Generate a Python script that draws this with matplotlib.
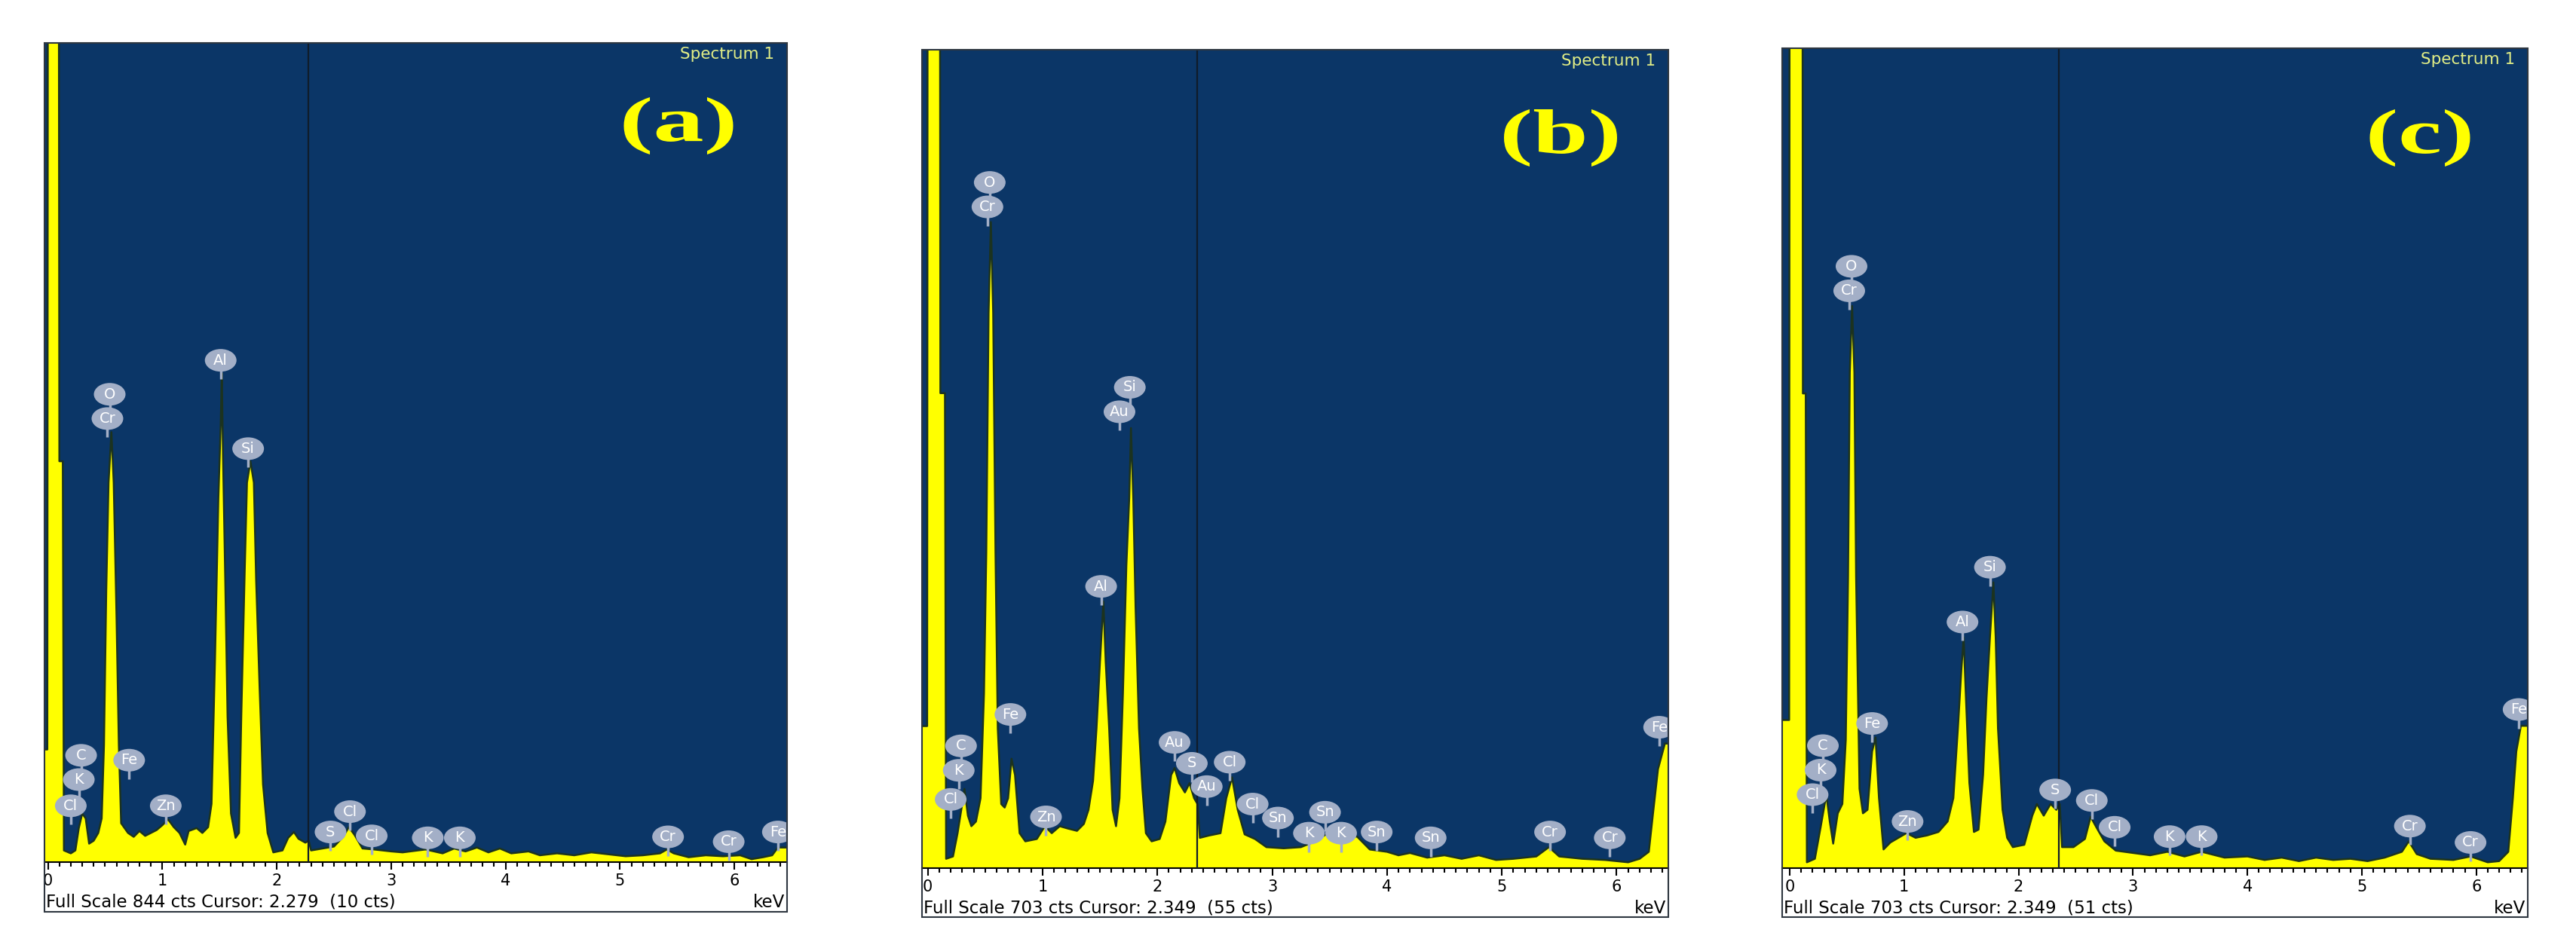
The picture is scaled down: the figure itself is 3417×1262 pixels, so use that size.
import matplotlib
matplotlib.use("Agg")
import matplotlib.pyplot as plt
from matplotlib.patches import Ellipse, Rectangle, PathPatch
from matplotlib.textpath import TextPath
from matplotlib.font_manager import FontProperties
from matplotlib.ticker import MultipleLocator
from matplotlib.transforms import Affine2D

# ---- spectrum (a) : energy in keV, counts ----
energy_a = [-0.03, -0.005, 0.0, 0.095, 0.10, 0.13, 0.14, 0.20, 0.24, 0.27, 0.30, 0.33, 0.36,
            0.40, 0.44, 0.47, 0.49, 0.51, 0.53, 0.555, 0.575, 0.60, 0.62, 0.64, 0.70, 0.75,
            0.80, 0.85, 0.90, 0.95, 1.00, 1.05, 1.10, 1.15, 1.20, 1.23, 1.30, 1.35, 1.40,
            1.43, 1.46, 1.49, 1.51, 1.52, 1.53, 1.55, 1.57, 1.60, 1.64, 1.67, 1.69, 1.72,
            1.74, 1.77, 1.80, 1.82, 1.85, 1.88, 1.92, 1.97, 2.05, 2.10, 2.15, 2.19, 2.25,
            2.28, 2.30, 2.40, 2.50, 2.58, 2.63, 2.68, 2.75, 2.85, 3.00, 3.10, 3.30, 3.45,
            3.55, 3.65, 3.75, 3.85, 3.95, 4.05, 4.20, 4.30, 4.45, 4.60, 4.75, 4.90, 5.05,
            5.20, 5.35, 5.41, 5.47, 5.60, 5.75, 5.90, 6.05, 6.15, 6.25, 6.33, 6.38, 6.46]
counts_a = [116, 116, 1000, 1000, 413, 413, 12, 9, 12, 35, 50, 45, 19,
            22, 30, 45, 120, 280, 391, 443, 391, 250, 120, 40, 30, 26,
            32, 27, 30, 33, 38, 44, 36, 30, 18, 32, 35, 30, 36,
            60, 207, 376, 450, 504, 420, 290, 150, 50, 25, 30, 150, 300,
            391, 413, 391, 290, 180, 80, 30, 10, 12, 25, 31, 24, 20,
            22, 12, 14, 16, 26, 36, 28, 14, 13, 11, 10, 13, 9,
            14, 11, 15, 10, 14, 9, 11, 7, 9, 7, 10, 8, 6,
            7, 9, 13, 9, 5, 7, 6, 7, 3, 5, 7, 15, 15]

# ---- spectrum (b) ----
energy_b = [-0.05, -0.005, 0.0, 0.105, 0.11, 0.15, 0.16, 0.22, 0.26, 0.30, 0.32, 0.35, 0.38,
            0.42, 0.46, 0.49, 0.51, 0.53, 0.55, 0.57, 0.59, 0.61, 0.64, 0.67, 0.70, 0.73,
            0.76, 0.80, 0.85, 0.95, 1.02, 1.08, 1.15, 1.22, 1.30, 1.36, 1.40, 1.44, 1.47,
            1.50, 1.53, 1.55, 1.58, 1.61, 1.64, 1.67, 1.70, 1.73, 1.755, 1.77, 1.79, 1.81,
            1.84, 1.87, 1.90, 1.95, 2.02, 2.07, 2.12, 2.15, 2.19, 2.24, 2.28, 2.32, 2.35,
            2.37, 2.45, 2.55, 2.60, 2.65, 2.70, 2.76, 2.85, 2.95, 3.10, 3.25, 3.35, 3.47,
            3.55, 3.65, 3.74, 3.85, 4.00, 4.10, 4.20, 4.35, 4.50, 4.65, 4.80, 4.95, 5.10,
            5.30, 5.41, 5.50, 5.70, 5.90, 6.10, 6.20, 6.28, 6.32, 6.36, 6.42, 6.45]
counts_b = [122, 122, 1000, 1000, 408, 408, 8, 10, 30, 55, 68, 45, 36,
            40, 60, 150, 271, 477, 555, 477, 271, 120, 55, 52, 60, 94,
            80, 30, 23, 25, 36, 30, 36, 34, 32, 38, 50, 75, 120,
            177, 229, 177, 120, 50, 36, 60, 150, 260, 318, 378, 318, 224,
            120, 68, 30, 23, 25, 40, 80, 86, 73, 65, 73, 60, 55,
            26, 28, 30, 60, 78, 50, 29, 25, 18, 17, 18, 22, 29,
            25, 28, 27, 16, 14, 11, 13, 9, 11, 8, 11, 7, 8,
            10, 18, 10, 8, 7, 5, 8, 14, 50, 85, 107, 107]

# ---- spectrum (c) ----
energy_c = [-0.066, -0.005, 0.0, 0.11, 0.115, 0.14, 0.15, 0.22, 0.27, 0.32, 0.35, 0.38, 0.42,
            0.46, 0.49, 0.51, 0.525, 0.545, 0.565, 0.58, 0.61, 0.64, 0.68, 0.72, 0.75, 0.78,
            0.82, 0.88, 0.95, 1.02, 1.10, 1.20, 1.30, 1.38, 1.43, 1.47, 1.50, 1.52, 1.54,
            1.57, 1.61, 1.65, 1.69, 1.72, 1.75, 1.78, 1.80, 1.82, 1.86, 1.90, 1.95, 2.05,
            2.12, 2.16, 2.22, 2.28, 2.33, 2.36, 2.38, 2.48, 2.58, 2.63, 2.68, 2.75, 2.85,
            3.00, 3.15, 3.30, 3.45, 3.60, 3.80, 4.00, 4.15, 4.30, 4.45, 4.60, 4.75, 4.90,
            5.05, 5.20, 5.35, 5.41, 5.48, 5.60, 5.80, 5.95, 6.10, 6.20, 6.28, 6.32, 6.35,
            6.39, 6.45]
counts_c = [127, 127, 1000, 1000, 407, 407, 5, 8, 35, 63, 40, 21, 47,
            55, 110, 250, 425, 482, 425, 250, 68, 47, 50, 100, 112, 60,
            16, 22, 26, 30, 26, 28, 31, 40, 60, 120, 170, 198, 146,
            73, 31, 33, 80, 146, 198, 245, 198, 120, 50, 26, 18, 20,
            45, 55, 45, 55, 50, 55, 18, 18, 25, 44, 35, 23, 15,
            13, 11, 14, 10, 14, 9, 10, 7, 9, 6, 9, 7, 8,
            6, 9, 14, 23, 12, 8, 7, 10, 5, 6, 14, 60, 100,
            122, 122]

# ---- element markers: label, energy (keV), height (cts) ----
labels_a = ["O", "Cr", "Al", "Si", "C", "K", "Cl", "Fe", "Zn", "S", "Cl", "Cl", "K", "K", "Cr", "Cr", "Fe"]
mark_e_a = [0.54, 0.52, 1.51, 1.75, 0.29, 0.27, 0.20, 0.71, 1.03, 2.47, 2.64, 2.83, 3.32, 3.60, 5.42, 5.95, 6.38]
mark_c_a = [482, 457, 517, 426, 110, 85, 58, 105, 58, 31, 52, 27, 25, 25, 26, 21, 31]

labels_b = ["O", "Cr", "Si", "Au", "Al", "Fe", "C", "K", "Cl", "Zn", "Au", "S", "Au", "Cl",
            "Cl", "Sn", "K", "Sn", "K", "Sn", "Sn", "Cr", "Cr", "Fe"]
mark_e_b = [0.54, 0.52, 1.76, 1.67, 1.51, 0.72, 0.29, 0.27, 0.20, 1.03, 2.15, 2.30, 2.43, 2.63,
            2.83, 3.05, 3.32, 3.46, 3.60, 3.91, 4.38, 5.42, 5.94, 6.37]
mark_c_b = [589, 568, 413, 392, 242, 132, 105, 84, 59, 44, 108, 90, 70, 91,
            55, 43, 30, 48, 30, 31, 26, 31, 26, 121]

labels_c = ["O", "Cr", "Si", "Al", "Fe", "C", "K", "Cl", "Zn", "S", "Cl", "Cl", "K", "K", "Cr", "Cr", "Fe"]
mark_e_c = [0.54, 0.52, 1.75, 1.51, 0.72, 0.29, 0.27, 0.20, 1.03, 2.32, 2.64, 2.84, 3.32, 3.60, 5.42, 5.95, 6.37]
mark_c_c = [516, 495, 258, 211, 124, 105, 84, 63, 40, 67, 58, 35, 27, 27, 36, 22, 136]

full_scale = [844, 703, 703]
cursor_kev = [2.279, 2.349, 2.349]
cursor_cts = [10, 55, 51]
panel_tags = ["(a)", "(b)", "(c)"]

# colours taken from the INCA screen
BG = "#0b3667"
YEL = "#ffff00"
EDGE = "#1c331f"
BADGE = "#a3afc7"
SPEC = "#e2ee86"

W, H = 3417, 1262
# panel boxes in pixels: left, right, top, plot bottom, frame bottom
boxes = [(59, 1044, 57, 1144, 1210), (1223, 2213, 66, 1152, 1217), (2364, 3353, 64, 1152, 1217)]
xlims = [(-0.03, 6.46), (-0.05, 6.45), (-0.066, 6.45)]
# "(x)" tag: centre x, centre y, width, height in pixels
tag_box = [(900, 167, 145, 76), (2070, 183, 150, 76), (3210, 183, 133, 76)]

spectra = [(energy_a, counts_a, labels_a, mark_e_a, mark_c_a),
           (energy_b, counts_b, labels_b, mark_e_b, mark_c_b),
           (energy_c, counts_c, labels_c, mark_e_c, mark_c_c)]

fig = plt.figure(figsize=(W / 100, H / 100), dpi=100)
fig.patch.set_facecolor("white")
tag_font = FontProperties(family="Liberation Serif", weight="bold")

for i, (en, ct, lbls, me, mc) in enumerate(spectra):
    l, r, t, b, fb = boxes[i]
    aw, ah = r - l, b - t
    ax = fig.add_axes([l / W, 1 - b / H, aw / W, ah / H])
    ax.set_facecolor(BG)
    ax.set_xlim(*xlims[i])
    ax.set_ylim(0, full_scale[i])

    ax.fill_between(en, ct, 0, color=YEL, lw=0, zorder=2)
    ax.plot(en, ct, color=EDGE, lw=1.8, zorder=3)
    ax.axvline(cursor_kev[i], color="#101c2a", lw=1.6, zorder=4)

    # element badges with short stems
    px_kev = aw / (xlims[i][1] - xlims[i][0])
    px_ct = ah / full_scale[i]
    ew, eh = 42 / px_kev, 30 / px_ct
    for lab, e, c in zip(lbls, me, mc):
        ax.plot([e, e], [c - eh / 2 - 10 / px_ct, c], color=BADGE, lw=2.5, zorder=5,
                solid_capstyle="butt")
        ax.add_patch(Ellipse((e, c), ew, eh, fc=BADGE, ec="none", zorder=6))
        ax.text(e, c, lab, ha="center", va="center", color="white", fontsize=14,
                zorder=7, clip_on=True)

    # axis look
    for s in ["top", "left", "right"]:
        ax.spines[s].set_visible(False)
    ax.spines["bottom"].set_color("black")
    ax.spines["bottom"].set_linewidth(1.5)
    ax.set_yticks([])
    ax.set_xticks(range(0, 7))
    ax.xaxis.set_minor_locator(MultipleLocator(0.1))
    ax.tick_params(axis="x", which="major", direction="out", length=7, width=1.5,
                   labelsize=15, pad=4)
    ax.tick_params(axis="x", which="minor", direction="out", length=4, width=1.5)

    ax.text(1 - 17 / aw, 1 - 15 / ah, "Spectrum 1", transform=ax.transAxes,
            ha="right", va="center", color=SPEC, fontsize=15.5)
    info = f"Full Scale {full_scale[i]} cts Cursor: {cursor_kev[i]:.3f}  ({cursor_cts[i]} cts)"
    ax.text(2 / aw, -53 / ah, info, transform=ax.transAxes, ha="left", va="center",
            fontsize=16.5, color="black")
    ax.text(1 - 3 / aw, -53 / ah, "keV", transform=ax.transAxes, ha="right", va="center",
            fontsize=16.5, color="black")

    # outer frame of the screen capture
    fig.add_artist(Rectangle((l / W, 1 - fb / H), aw / W, (fb - t) / H,
                             transform=fig.transFigure, fill=False,
                             ec="#2e3640", lw=1.5, zorder=10))

    # stretched bold serif panel tag
    cx, cy, tw, th = tag_box[i]
    tp = TextPath((0, 0), panel_tags[i], size=100, prop=tag_font)
    ext = tp.get_extents()
    tr = (Affine2D().translate(-(ext.x0 + ext.width / 2), -(ext.y0 + ext.height / 2))
          .scale(tw / ext.width, th / ext.height)
          .translate(cx, H - cy).scale(1 / W, 1 / H))
    fig.add_artist(PathPatch(tr.transform_path(tp), fc=YEL, ec="none",
                             transform=fig.transFigure, zorder=11))

fig.savefig("out.png", dpi=100)
